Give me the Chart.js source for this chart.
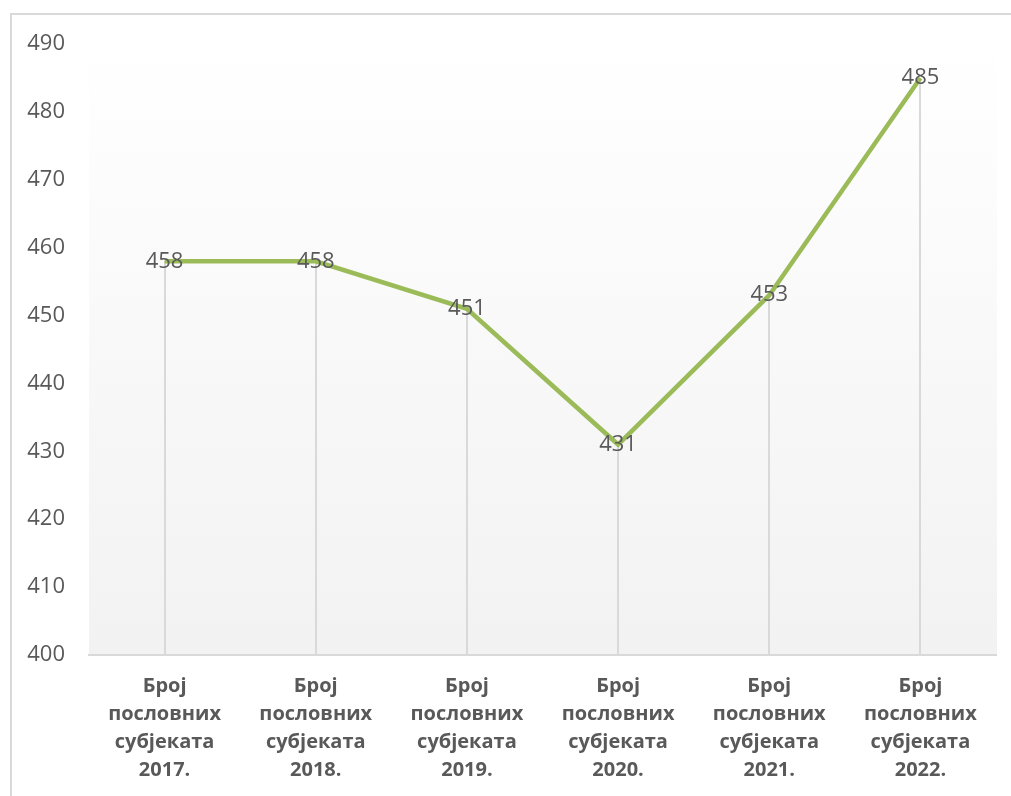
<!DOCTYPE html>
<html>
<head>
<meta charset="utf-8">
<script src="https://cdn.jsdelivr.net/npm/chart.js@4/dist/chart.umd.min.js"></script>
<style>
html,body{margin:0;padding:0;background:#fff;}
#wrap{position:absolute;left:0;top:0;width:1011px;height:796px;}
</style>
</head>
<body>
<div id="wrap"><canvas id="c" width="1011" height="796"></canvas></div>
<script>
const categories = [
  ["Број","пословних","субјеката","2017."],
  ["Број","пословних","субјеката","2018."],
  ["Број","пословних","субјеката","2019."],
  ["Број","пословних","субјеката","2020."],
  ["Број","пословних","субјеката","2021."],
  ["Број","пословних","субјеката","2022."]
];
const values = [458, 458, 451, 431, 453, 485];
const yMin = 400, yMax = 490, yStep = 10;

const FONT = "'Open Sans', 'Noto Sans', sans-serif";
const TEXT = '#595959';

const framePlugin = {
  id: 'frame',
  beforeDraw(chart) {
    const ctx = chart.ctx, a = chart.chartArea;
    ctx.save();
    ctx.fillStyle = '#fff';
    ctx.fillRect(0, 0, chart.width, chart.height);
    ctx.strokeStyle = '#d9d9d9';
    ctx.lineWidth = 2;
    ctx.beginPath();
    ctx.moveTo(11, chart.height + 2);
    ctx.lineTo(11, 14);
    ctx.lineTo(chart.width + 2, 14);
    ctx.stroke();
    const g = ctx.createLinearGradient(0, a.top, 0, a.bottom);
    g.addColorStop(0, '#ffffff');
    g.addColorStop(1, '#f2f2f2');
    ctx.fillStyle = g;
    ctx.fillRect(a.left, a.top, a.right - a.left + 1, a.bottom - a.top);
    ctx.restore();
  },
  beforeDatasetsDraw(chart) {
    const ctx = chart.ctx, a = chart.chartArea;
    const meta = chart.getDatasetMeta(0);
    ctx.save();
    ctx.strokeStyle = '#d9d9d9';
    ctx.lineWidth = 2;
    meta.data.forEach(p => {
      ctx.beginPath();
      ctx.moveTo(Math.round(p.x), p.y);
      ctx.lineTo(Math.round(p.x), a.bottom);
      ctx.stroke();
    });
    ctx.restore();
  },
  afterDatasetsDraw(chart) {
    const ctx = chart.ctx;
    const meta = chart.getDatasetMeta(0);
    ctx.save();
    ctx.fillStyle = TEXT;
    ctx.font = "22px " + FONT;
    ctx.textAlign = 'center';
    ctx.textBaseline = 'middle';
    meta.data.forEach((p, i) => {
      ctx.fillText(String(values[i]), p.x, p.y);
    });
    ctx.restore();
  }
};

new Chart(document.getElementById('c'), {
  type: 'line',
  data: {
    labels: categories,
    datasets: [{
      data: values,
      borderColor: '#9bbb59',
      borderWidth: 4.5,
      pointRadius: 0,
      tension: 0,
      fill: false
    }]
  },
  options: {
    responsive: false,
    animation: false,
    events: [],
    devicePixelRatio: 1,
    layout: { padding: { top: 44, right: 15, left: 0, bottom: 0 } },
    plugins: { legend: { display: false }, tooltip: { enabled: false } },
    scales: {
      x: {
        offset: true,
        grid: { display: false, drawTicks: false },
        border: { display: true, color: '#d9d9d9', width: 2 },
        ticks: {
          color: TEXT,
          font: { family: FONT, size: 20, weight: 'bold', lineHeight: 1.4 },
          padding: 17,
          maxRotation: 0,
          autoSkip: false
        },
        afterFit(s) { s.height = 141; }
      },
      y: {
        min: yMin, max: yMax,
        grid: { display: false, drawTicks: false },
        border: { display: false },
        ticks: {
          stepSize: yStep,
          color: TEXT,
          font: { family: FONT, size: 22 },
          padding: 24
        },
        afterFit(s) { s.width = 89; }
      }
    }
  },
  plugins: [framePlugin]
});
</script>
</body>
</html>
